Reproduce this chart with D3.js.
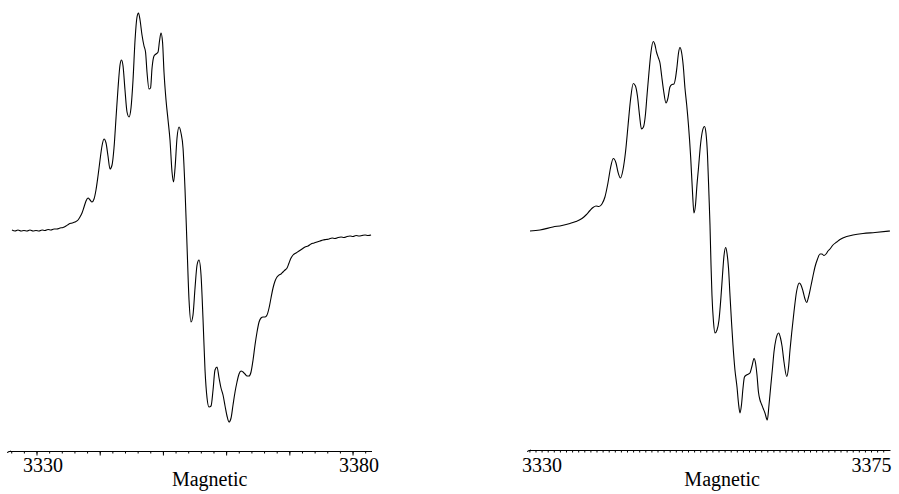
<!DOCTYPE html>
<html>
<head>
<meta charset="utf-8">
<script src="https://cdn.jsdelivr.net/npm/d3@7"></script>
<style>
body { margin: 0; background: #fff; }
svg { display: block; }
.trace { fill: none; stroke: #000; stroke-width: 1.1; stroke-linejoin: round; }
.axis path, .axis line { stroke: #000; stroke-width: 1; }
.lbl { font-family: "Liberation Serif", "DejaVu Serif", serif; font-size: 20px; fill: #000; }
</style>
</head>
<body>
<svg width="899" height="494"></svg>
<script>
// experimental spectrum (left), field in G
var expField = [3326.12,3326.60,3327.07,3327.55,3328.02,3328.50,3328.97,3329.45,3329.92,3330.40,3330.87,3331.34,3331.82,3332.29,3332.77,3333.24,3333.72,3334.19,3334.67,3335.14,3335.62,3336.09,3336.57,3336.88,3337.20,3337.52,3337.83,3338.15,3338.47,3338.78,3339.10,3339.41,3339.73,3340.05,3340.36,3340.68,3341.00,3341.31,3341.63,3341.95,3342.26,3342.58,3342.90,3343.21,3343.45,3343.69,3344.00,3344.32,3344.64,3344.95,3345.27,3345.59,3345.90,3346.14,3346.38,3346.69,3347.01,3347.25,3347.48,3347.80,3348.04,3348.28,3348.59,3348.91,3349.23,3349.46,3349.70,3349.94,3350.17,3350.49,3350.81,3351.12,3351.44,3351.68,3351.92,3352.23,3352.55,3352.86,3353.18,3353.50,3353.81,3354.13,3354.45,3354.76,3355.08,3355.40,3355.71,3356.03,3356.35,3356.66,3356.98,3357.29,3357.61,3357.93,3358.24,3358.56,3358.88,3359.19,3359.51,3359.83,3360.14,3360.46,3360.78,3361.09,3361.41,3361.72,3362.04,3362.36,3362.67,3362.99,3363.31,3363.62,3363.94,3364.26,3364.57,3364.89,3365.21,3365.52,3365.84,3366.16,3366.47,3366.79,3367.10,3367.42,3367.74,3368.05,3368.37,3368.69,3369.00,3369.32,3369.64,3369.95,3370.27,3370.59,3371.06,3371.53,3372.01,3372.48,3372.96,3373.43,3373.91,3374.38,3374.86,3375.33,3375.81,3376.28,3376.76,3377.23,3377.71,3378.18,3378.66,3379.13,3379.60,3380.08,3380.55,3381.03,3381.50,3381.98,3382.45,3382.93];
var expSignal = [0,-0.5,0,-0.5,-0.25,-0.5,0,-0.5,-0.25,-0.5,0,-0.25,0.25,0,0.5,0.5,1,1.25,2,3,3.5,4,5,6.5,8.5,11.5,14.5,16,15,14,15.5,20,27,35,42,45.5,43.5,37,30.5,32.5,41,56,71,82.5,85,82,70,59,56.5,61,75,95,106.5,108.5,105,97.5,92,89,79,70.5,71,81,87,88,89,94.5,98.5,94,79,65,55,45,29,24,31,46,51.5,48.5,41,20,-7.5,-35,-46,-42.5,-29,-17.5,-15,-22.5,-45,-70,-84,-88.5,-88,-80,-70,-68.5,-74,-79,-82.5,-88,-93,-96,-94,-87.5,-81,-76,-72,-70.5,-71,-72,-73,-73,-71,-65,-57.5,-51,-46,-44,-43.5,-43.5,-42.5,-39,-34,-29,-25.5,-23.5,-22.5,-22,-21,-20,-19,-16.5,-14,-12.5,-11.5,-10.5,-9.5,-8.5,-8,-7,-6.5,-6,-5.5,-5,-4.75,-4.5,-4,-4.25,-3.75,-3.5,-3.75,-3.25,-3,-3.25,-2.75,-3,-2.75,-2.5,-2.75,-2.5];

// simulated spectrum (right)
var simField = [3329.25,3330.61,3332.39,3333.62,3334.71,3335.53,3336.35,3336.90,3337.45,3337.86,3338.27,3338.67,3339.08,3339.49,3339.90,3340.25,3340.63,3341.00,3341.27,3341.61,3341.95,3342.30,3342.64,3342.98,3343.36,3343.66,3343.93,3344.21,3344.48,3344.75,3345.03,3345.23,3345.51,3345.78,3346.09,3346.33,3346.53,3346.80,3347.01,3347.24,3347.49,3347.83,3348.10,3348.37,3348.65,3348.92,3349.13,3349.33,3349.54,3349.74,3349.95,3350.19,3350.42,3350.66,3350.90,3351.20,3351.45,3351.65,3351.86,3352.06,3352.27,3352.54,3352.81,3353.09,3353.29,3353.50,3353.70,3353.84,3353.98,3354.11,3354.32,3354.52,3354.80,3355.07,3355.34,3355.55,3355.75,3355.98,3356.16,3356.37,3356.57,3356.78,3356.98,3357.25,3357.53,3357.73,3357.94,3358.14,3358.35,3358.55,3358.83,3359.10,3359.30,3359.58,3359.85,3360.06,3360.26,3360.46,3360.67,3360.87,3361.08,3361.35,3361.67,3361.90,3362.13,3362.38,3362.58,3362.86,3363.22,3363.47,3363.68,3363.95,3364.32,3364.56,3364.77,3365.00,3365.31,3365.68,3366.04,3366.27,3366.54,3366.82,3367.05,3367.30,3367.60,3367.91,3368.18,3368.53,3368.87,3369.14,3369.41,3369.69,3369.96,3370.23,3370.64,3371.15,3371.60,3372.51,3373.37,3374.74,3376.38,3378.43];
var simSignal = [-0.5,0,1.5,2.25,3.25,4.25,5.75,7.5,9.75,11.25,12,11.75,13,16.5,23.5,31,35.75,33.5,29,26,30,39,52,65,73.25,72,67,57.5,50.5,51.5,58,67,79,89,94.25,92.5,89,86,83.5,77,70,63.5,66,71.5,72.75,73,76,81.5,88.5,91.25,89,82,71,62.5,52.5,36.5,19,8.5,12.5,22.5,31,42.5,49.5,51.75,48.5,37.5,17.5,2.5,-17.5,-32.5,-46,-51.5,-50,-45,-33.5,-22.5,-13,-8.75,-11.5,-19,-32.5,-46,-57.5,-70,-78.5,-86.5,-91.5,-87.5,-79,-73.5,-72.5,-72,-71.5,-68,-64.25,-66.5,-72.5,-81,-85,-87,-89,-91.5,-95,-87.5,-78.5,-69,-61,-54.5,-51.5,-54,-58,-66,-73.25,-69,-60,-51.5,-41,-30.5,-26.5,-27.5,-30.5,-34.5,-36.25,-33.5,-28.5,-23,-18.5,-14.5,-12,-12,-12.75,-12,-10.5,-9.5,-7.5,-6,-4.75,-3.25,-2.5,-1.75,-1.25,-0.5];

var expTickLabels = [3330, 3380];
var simTickLabels = [3330, 3375];
var axisTitle = "Magnetic";

var svg = d3.select("svg");

// one entry per panel
var panels = [
	{
		field: expField, signal: expSignal, labels: expTickLabels,
		domain: [3325.49, 3383.0], range: [8, 371.5], axisY: 451,
		minor: d3.range(3326, 3383, 2), major: d3.range(3330, 3381, 10),
		titleAt: 3357.4
	},
	{
		field: simField, signal: simSignal, labels: simTickLabels,
		domain: [3328.98, 3378.43], range: [528, 890], axisY: 450,
		minor: d3.range(0, 59).map(function(i) { return 3329.17 + i * 5 / 6; }), major: [],
		titleAt: 3355.5
	}
];

// intensity axis is not drawn, shared by both panels
var y = d3.scaleLinear().domain([-100, 100]).range([430, 30]);

panels.forEach(function(p) {
	var x = d3.scaleLinear().domain(p.domain).range(p.range);

	var line = d3.line()
		.x(function(d, i) { return x(p.field[i]); })
		.y(function(d) { return y(d); })
		.curve(d3.curveMonotoneX);

	svg.append("path").datum(p.signal).attr("class", "trace").attr("d", line);

	//minor ticks + baseline
	svg.append("g").attr("class", "axis")
		.attr("transform", "translate(0," + p.axisY + ")")
		.call(d3.axisBottom(x).tickValues(p.minor).tickSize(2.5).tickSizeOuter(0).tickFormat(""));

	//longer ticks every 10 G
	var gm = svg.append("g").attr("class", "axis")
		.attr("transform", "translate(0," + p.axisY + ")")
		.call(d3.axisBottom(x).tickValues(p.major).tickSize(4.5).tickSizeOuter(0).tickFormat(""));
	gm.select(".domain").remove();

	//small hook at the start of the axis
	svg.append("path").attr("fill", "none").attr("stroke", "#000")
		.attr("d", "M" + (p.range[0] - 1) + "," + (p.axisY + 1.5) + "L" + (p.range[0] + 3) + "," + p.axisY);

	svg.selectAll(null).data(p.labels).enter().append("text")
		.attr("class", "lbl")
		.attr("text-anchor", "middle")
		.attr("x", function(d) { return x(d) + 6.5; })
		.attr("y", 472)
		.text(function(d) { return d; });

	svg.append("text").attr("class", "lbl")
		.attr("text-anchor", "middle")
		.attr("x", x(p.titleAt)).attr("y", 486)
		.text(axisTitle);
});
</script>
</body>
</html>
